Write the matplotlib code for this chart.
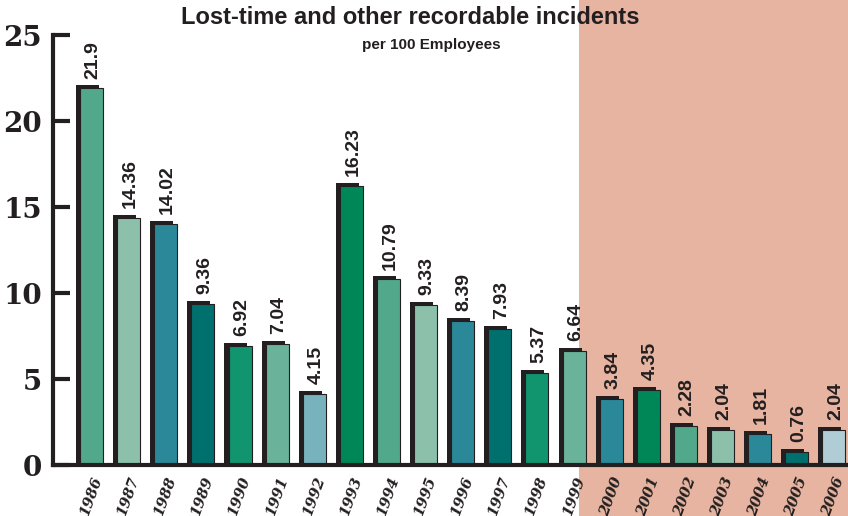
import numpy as np
import matplotlib.pyplot as plt
from matplotlib.patches import Rectangle
from matplotlib.transforms import blended_transform_factory

years = [str(y) for y in range(1986, 2007)]
rates = [21.9, 14.36, 14.02, 9.36, 6.92, 7.04, 4.15, 16.23, 10.79, 9.33,
         8.39, 7.93, 5.37, 6.64, 3.84, 4.35, 2.28, 2.04, 1.81, 0.76, 2.04]
bar_colors = ['#52a88a', '#8cc0aa', '#2a8898', '#00706e', '#10956e', '#6ab29a',
              '#78b2bc', '#008758', '#52a88a', '#8cc0aa', '#2a8898', '#00706e',
              '#10956e', '#6ab29a', '#2a8898', '#008758', '#52a88a', '#8cc0aa',
              '#2a8898', '#00706e', '#b0ccd4']
highlight_from = 13.12  # shaded zone starts just past the 1999 bar

dark = '#231f20'
pink = '#e6b4a0'

fig = plt.figure(figsize=(8.48, 5.16), dpi=100)
ax = fig.add_axes([53 / 848, 51 / 516, 795 / 848, 430 / 516])
ax.set_facecolor('none')

x = np.arange(len(years))
ax.set_xlim(-1.04, 20.38)
ax.set_ylim(0, 25)

# shaded band for recent years, running down past the tick labels
trans = blended_transform_factory(ax.transData, fig.transFigure)
ax.add_patch(Rectangle((highlight_from, 0), 30, 1, transform=trans,
                       facecolor=pink, edgecolor='none', zorder=0, clip_on=False))

width = 0.62
dx, dy = 0.11, 0.17
# dark drop shadow offset up-left, then the coloured bar
ax.bar(x - dx, np.array(rates) + dy, width=width, color=dark, zorder=2)
ax.bar(x, rates, width=width, color=bar_colors, edgecolor=dark,
       linewidth=0.8, zorder=3)

for xi, v in zip(x, rates):
    ax.text(xi + 0.04, v + dy + 0.4, f'{v:g}', rotation=90, ha='center',
            va='bottom', fontsize=14, fontweight='bold',
            family='Liberation Sans', color=dark, zorder=4)

for side in ['top', 'right']:
    ax.spines[side].set_visible(False)
ax.spines['left'].set_linewidth(3)
ax.spines['left'].set_color(dark)
ax.spines['left'].set_bounds(0, 25)
ax.spines['bottom'].set_linewidth(3)
ax.spines['bottom'].set_color(dark)
ax.spines['bottom'].set_zorder(5)

ax.set_yticks([0, 5, 10, 15, 20, 25])
ax.set_yticklabels(['0', '5', '10', '15', '20', '25'], family='DejaVu Serif',
                   fontweight='bold', fontsize=20, color=dark)
ax.tick_params(axis='y', direction='in', length=12, width=3, color=dark, pad=8)

ax.set_xticks(x)
ax.set_xticklabels(years, rotation=70, ha='right', va='top',
                   rotation_mode='anchor', family='DejaVu Serif',
                   fontstyle='italic', fontweight='bold', fontsize=10.5,
                   color=dark)
ax.tick_params(axis='x', length=0, pad=7)

fig.text(410 / 848, 1 - 18 / 516, 'Lost-time and other recordable incidents',
         ha='center', va='center', fontsize=17, fontweight='bold',
         family='Liberation Sans', color=dark)
fig.text(431 / 848, 1 - 45 / 516, 'per 100 Employees', ha='center',
         va='center', fontsize=11, fontweight='bold',
         family='Liberation Sans', color=dark)

fig.savefig('out.png', dpi=100)
